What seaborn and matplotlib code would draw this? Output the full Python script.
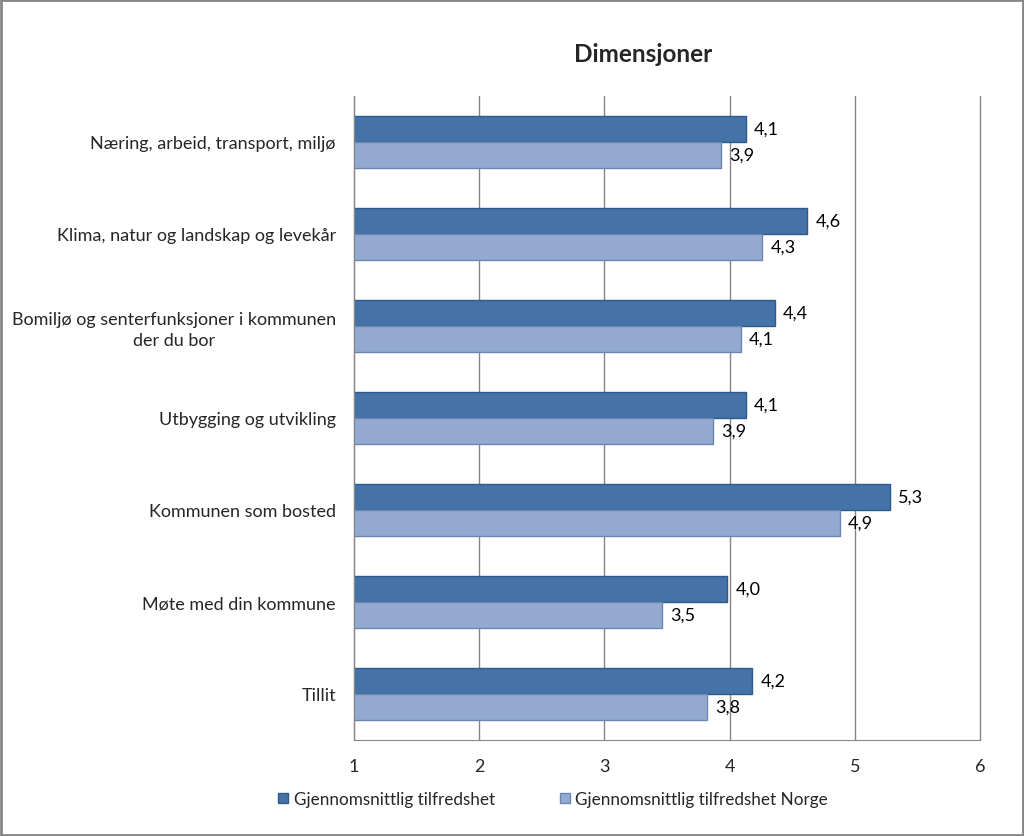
import pandas as pd
import numpy as np
import matplotlib.pyplot as plt
import seaborn as sns
from matplotlib.patches import Patch

#data lest av figuren
kategorier = ['Næring, arbeid, transport, miljø',
              'Klima, natur og landskap og levekår',
              'Bomiljø og senterfunksjoner i kommunen\nder du bor',
              'Utbygging og utvikling',
              'Kommunen som bosted',
              'Møte med din kommune',
              'Tillit']
tilfredshet = [4.13, 4.62, 4.36, 4.13, 5.28, 3.98, 4.18]
tilfredshet_norge = [3.93, 4.26, 4.09, 3.87, 4.88, 3.46, 3.82]
serier = ['Gjennomsnittlig tilfredshet', 'Gjennomsnittlig tilfredshet Norge']

df = pd.DataFrame({
    'kategori': kategorier * 2,
    'verdi': tilfredshet + tilfredshet_norge,
    'serie': [serier[0]] * len(kategorier) + [serier[1]] * len(kategorier),
})

sns.set_style('white')
plt.rcParams['font.family'] = ['Lato', 'DejaVu Sans']

fig = plt.figure(figsize=(10.24, 8.37), dpi=100)
ax = fig.add_axes([354 / 1024, 1 - 741 / 837, 626 / 1024, 644 / 837])

farger = ['#4572A7', '#93A9CF']
sns.barplot(data=df, x='verdi', y='kategori', hue='serie', palette=farger,
            saturation=1, orient='h', width=0.57, ax=ax, legend=False)

kanter = ['#2E5A8C', '#6B86B3']
for cont, kant, verdier in zip(ax.containers, kanter, [tilfredshet, tilfredshet_norge]):
    for bar in cont:
        bar.set_edgecolor(kant)
        bar.set_linewidth(1)
    ax.bar_label(cont, labels=[f'{v:.1f}'.replace('.', ',') for v in verdier],
                 padding=6, fontsize=13, color='#000000')

ax.set_xlim(1, 6)
ax.set_xticks([1, 2, 3, 4, 5, 6])
ax.set_xlabel('')
ax.set_ylabel('')
ax.grid(axis='x', color='#868686', linewidth=1)
for g in ax.get_xgridlines():
    g.set_clip_on(False)
ax.set_axisbelow(True)
for s in ['top', 'right']:
    ax.spines[s].set_visible(False)
for s in ['left', 'bottom']:
    ax.spines[s].set_color('#868686')
ax.tick_params(axis='x', labelsize=13, pad=13, length=0)
ax.tick_params(axis='y', labelsize=13, pad=13, length=0)
for t in ax.get_yticklabels():
    t.set_multialignment('center')
    t.set_linespacing(1.35)

fig.text(643 / 1024, 1 - 55 / 837, 'Dimensjoner', ha='center', va='center',
         fontsize=17.5, fontweight='bold')

handles = [Patch(facecolor=farger[0], edgecolor=kanter[0]),
           Patch(facecolor=farger[1], edgecolor=kanter[1])]
fig.legend(handles, serier, loc='center', bbox_to_anchor=(553 / 1024, 1 - 800 / 837),
           ncol=2, frameon=False, fontsize=12.3, handlelength=0.6, handleheight=0.6,
           handletextpad=0.3, columnspacing=3.8)

# ramme rundt hele figuren
fig.patches.append(plt.Rectangle((0.001, 0.001), 0.998, 0.998, transform=fig.transFigure,
                                 fill=False, edgecolor='#868686', linewidth=2))

fig.savefig('out.png', dpi=100)
